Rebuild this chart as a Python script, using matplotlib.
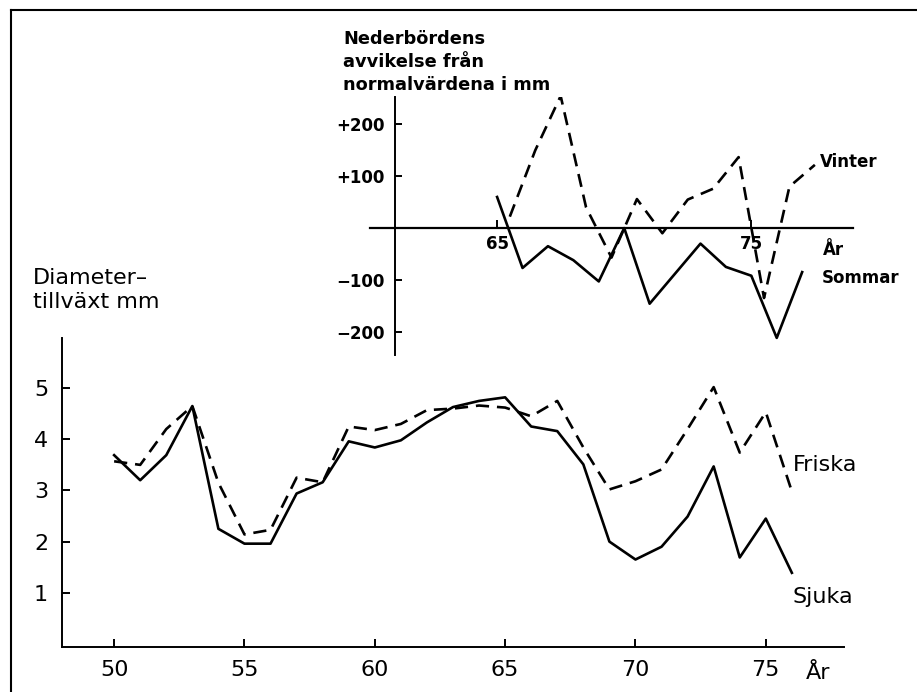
import numpy as np
import matplotlib.pyplot as plt
from matplotlib.lines import Line2D

# main chart: diameter growth (mm) per year
years = list(range(50, 77))
sjuka = [3.69, 3.2, 3.69, 4.65, 2.25, 1.96, 1.96, 2.94, 3.16, 3.96, 3.84, 3.98, 4.33, 4.63,
         4.75, 4.82, 4.25, 4.16, 3.51, 2.0, 1.65, 1.9, 2.49, 3.47, 1.69, 2.45, 1.39]
friska = [3.57, 3.5, 4.2, 4.65, 3.15, 2.14, 2.23, 3.25, 3.16, 4.25, 4.18, 4.3, 4.57, 4.6,
          4.66, 4.62, 4.45, 4.75, 3.84, 3.02, 3.18, 3.41, 4.2, 5.02, 3.74, 4.53, 2.98]
main_xticks = [50, 55, 60, 65, 70, 75]
main_yticks = [1, 2, 3, 4, 5]

# inset: precipitation deviation from normal (mm)
sommar_years = list(range(65, 78))
sommar = [60, -77, -35, -62, -103, 0, -146, -88, -30, -75, -92, -212, -85]
vinter_years = [65.5, 66.5, 67.5, 68.5, 69.5, 70.5, 71.5, 72.5, 73.5, 74.5, 75.5, 76.5, 77.5]
vinter = [22, 150, 255, 40, -57, 56, -10, 55, 76, 137, -135, 80, 122]
inset_xticks = [65, 75]
inset_yticks = [-200, -100, 100, 200]
inset_ylabels = ['\u2212200', '\u2212100', '+100', '+200']

W, H = 917, 692
fig = plt.figure(figsize=(W / 100, H / 100), dpi=100)


def px(x, y):
    return x / W, 1 - y / H


# frame lines of the scanned page
fig.add_artist(Line2D([11 / W, 11 / W], [0, 1 - 10 / H], color='black', lw=1.5))
fig.add_artist(Line2D([11 / W, 1], [1 - 10 / H, 1 - 10 / H], color='black', lw=1.5))

# ---- main axes ----
ax = fig.add_axes([62 / W, 45 / H, (844 - 62) / W, (647 - 338) / H])
ax.set_facecolor('none')
ax.plot(years, sjuka, color='black', lw=1.9)
ax.plot(years, friska, color='black', lw=1.9, dashes=(5, 3))
ax.set_xlim(48, 78)
ax.set_ylim(-0.06, 5.98)
for s in ['top', 'right']:
    ax.spines[s].set_visible(False)
for s in ['left', 'bottom']:
    ax.spines[s].set_linewidth(1.4)
ax.set_xticks(main_xticks)
ax.set_yticks(main_yticks)
ax.tick_params(axis='x', direction='in', length=6, width=1.4, labelsize=16, pad=9)
ax.tick_params(axis='y', direction='in', length=6, width=1.4, labelsize=16, pad=10)
ax.annotate('År', xy=(77, 0), xycoords=('data', 'axes fraction'), xytext=(0, -26),
            textcoords='offset pixels', ha='center', va='center', fontsize=16)

fig.text(*px(33, 268), 'Diameter\u2013\ntillväxt mm', fontsize=16, ha='left', va='top',
         linespacing=1.25)
fig.text(*px(793, 465), 'Friska', fontsize=16, ha='left', va='center')
fig.text(*px(793, 597), 'Sjuka', fontsize=16, ha='left', va='center')

# ---- inset axes ----
ai = fig.add_axes([370 / W, (H - 355) / H, (853 - 370) / W, (355 - 97) / H])
ai.set_facecolor('none')
ai.plot(sommar_years, sommar, color='black', lw=1.9)
ai.plot(vinter_years, vinter, color='black', lw=1.9, dashes=(5, 3))
ai.set_xlim(60, 79)
ai.set_ylim(-245, 253)
ai.spines['top'].set_visible(False)
ai.spines['right'].set_visible(False)
ai.spines['left'].set_position(('data', 61))
ai.spines['bottom'].set_position(('data', 0))
ai.spines['left'].set_linewidth(1.4)
ai.spines['bottom'].set_linewidth(1.6)
ai.set_xticks(inset_xticks)
ai.set_yticks(inset_yticks)
ai.set_yticklabels(inset_ylabels)
ai.tick_params(axis='x', direction='in', length=6, width=1.4, labelsize=12, pad=5)
ai.tick_params(axis='y', direction='in', length=5, width=1.4, labelsize=12, pad=8)
for lab in ai.get_xticklabels() + ai.get_yticklabels():
    lab.set_fontweight('bold')

fig.text(*px(343, 30), 'Nederbördens\navvikelse från\nnormalvärdena i mm', fontsize=12.8,
         fontweight='bold', ha='left', va='top', linespacing=1.35)
fig.text(*px(820, 162), 'Vinter', fontsize=12, fontweight='bold', ha='left', va='center')
fig.text(*px(822, 278), 'Sommar', fontsize=12, fontweight='bold', ha='left', va='center')
fig.text(*px(833, 250), 'År', fontsize=12, fontweight='bold', ha='center', va='center')

fig.savefig('out.png', dpi=100)
